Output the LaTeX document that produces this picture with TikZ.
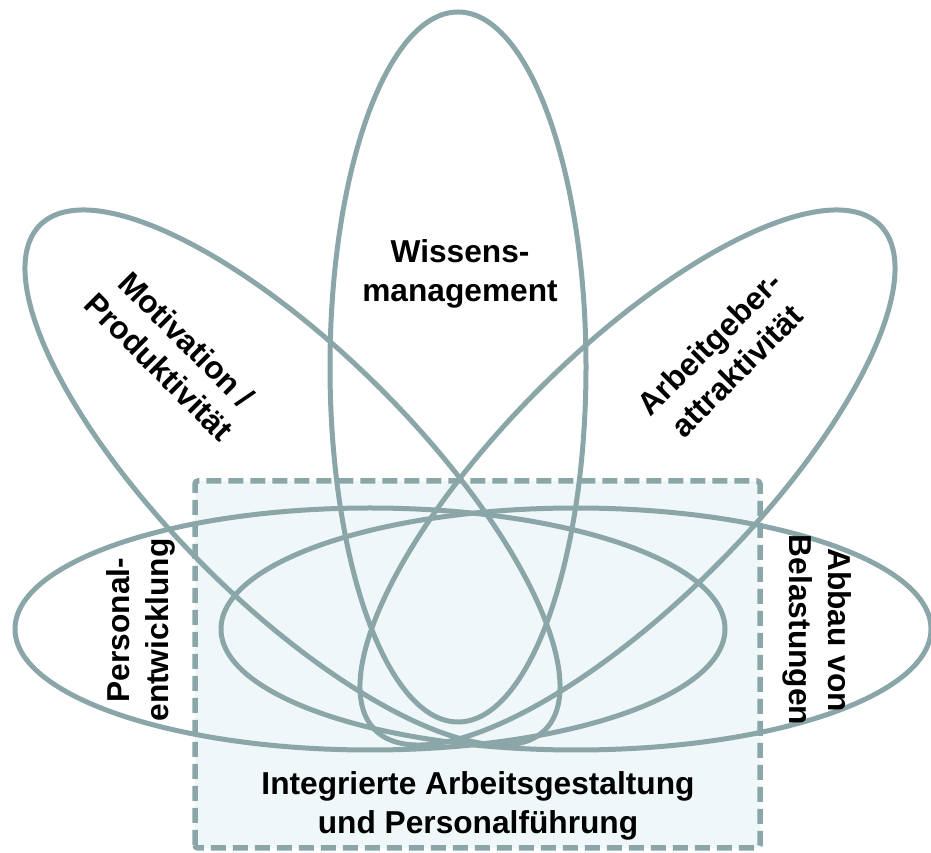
\documentclass[tikz,border=0pt]{standalone}
\usepackage{fontspec}
\setmainfont{Liberation Sans}
\usepackage{tikz}
\definecolor{petalcol}{RGB}{139,166,168}
\definecolor{boxfill}{RGB}{239,247,248}

\begin{document}
\begin{tikzpicture}[petal/.style={draw=petalcol, line width=5bp},
  lbl/.style={font=\bfseries\fontsize{31.8}{39}\selectfont, align=center, inner sep=0pt}]
%%
  \useasboundingbox (0bp,0bp) rectangle (931bp,853bp);
  \draw [draw=petalcol, fill=boxfill, line width=5.5bp, dash pattern=on 15bp off 7bp, rounded corners=3bp] (195bp,5bp) rectangle (760bp,372bp);
%
  \draw [petal] (370.0bp,224.0bp) ellipse [x radius=355bp, y radius=121bp];
  \draw [petal] (576.0bp,224.0bp) ellipse [x radius=355bp, y radius=121bp];
  \draw [petal] (458.0bp,486.0bp) ellipse [x radius=128bp, y radius=355bp];
  \draw [petal] (292.5bp,375.5bp) ellipse [x radius=357bp, y radius=125bp, rotate=-45];
  \draw [petal] (627.5bp,375.5bp) ellipse [x radius=357bp, y radius=125bp, rotate=45];
%
  \node (wissen) at (460.0bp,579.0bp) [lbl] {Wissens-\\management};
  \node (motiv) at (173.0bp,500.0bp) [lbl, rotate=-45] {Motivation /\\Produktivität};
  \node (arbeit) at (723.0bp,496.0bp) [lbl, rotate=45] {Arbeitgeber-\\attraktivität};
  \node (perso) at (141.0bp,223.0bp) [lbl, rotate=90] {Personal-\\entwicklung};
  \node (abbau) at (817.0bp,223.0bp) [lbl, rotate=-90] {Abbau von\\Belastungen};
  \node (integ) at (478.0bp,47.0bp) [lbl] {Integrierte Arbeitsgestaltung\\und Personalführung};
%
\end{tikzpicture}
\end{document}
